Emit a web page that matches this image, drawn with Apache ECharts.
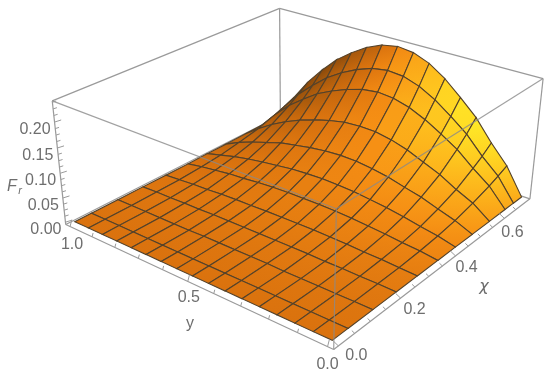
<!DOCTYPE html>
<html>
<head>
<meta charset="utf-8">
<style>html,body{margin:0;padding:0;background:#fff}#chart{width:550px;height:376px}</style>
<script src="https://cdn.jsdelivr.net/npm/echarts@6/dist/echarts.min.js"></script>
</head>
<body>
<div id="chart"></div>
<script>
// mesh positions of the surface
let chiValues=[0,0.048,0.127,0.205,0.279,0.354,0.421,0.488,0.559,0.626,0.663,0.7];
let yValues=[0,0.0625,0.125,0.1875,0.25,0.3125,0.375,0.4375,0.5,0.5625,0.625,0.6875,0.75,0.8125,0.875,0.9375,1];
// F_r, one row per chi value
let frRows=[
[0,0,0,0,0,0,0,0,0,0,0,0,0,0,0,0,0],
[0,0,0,0,0,0,0,0,0,0,0,0,0,0,0,0,0],
[0,0,0,0,0,0,.001,.001,.001,.001,.001,0,0,0,0,0,0],
[0,.001,.001,.002,.002,.003,.003,.003,.003,.003,.003,.003,.002,.002,.001,.001,0],
[0,.002,.004,.005,.007,.008,.009,.009,.009,.009,.008,.008,.007,.005,.004,.002,0],
[0,.005,.008,.012,.015,.018,.020,.021,.021,.021,.020,.018,.015,.013,.009,.005,0],
[0,.009,.015,.022,.028,.032,.036,.038,.039,.038,.036,.032,.028,.023,.017,.009,.001],
[0,.015,.026,.038,.046,.055,.061,.065,.066,.064,.060,.054,.048,.038,.028,.016,.001],
[0,.025,.041,.060,.074,.088,.098,.104,.105,.103,.096,.087,.076,.062,.045,.025,.002],
[0,.037,.062,.090,.111,.130,.145,.154,.157,.153,.143,.130,.114,.092,.068,.038,.003],
[0,.045,.075,.110,.136,.160,.178,.189,.192,.187,.175,.159,.139,.112,.083,.046,.003],
[0,.054,.091,.133,.164,.193,.215,.228,.232,.226,.212,.192,.168,.136,.100,.056,.004]
];
let chiTicks=[0,0.2,0.4,0.6];
let chiMinor=[0.05,0.1,0.15,0.25,0.3,0.35,0.45,0.5,0.55,0.65];
let yTicks=[0,0.5,1];
let yMinor=[0.1,0.2,0.3,0.4,0.6,0.7,0.8,0.9];
let frTicks=[0,0.05,0.1,0.15,0.2];
let frMinor=[0.0125,0.025,0.0375,0.0625,0.075,0.0875,0.1125,0.125,0.1375,0.1625,0.175,0.1875,0.2125,0.225,0.2375];

let chiRange=[-0.014,0.714];
let yRange=[-0.02,1.02];
let frRange=[-0.005,0.24];

// where the box corners land on the page: u,v,w,px,py
let boxFit=[
[0,0,0,335,350],[0,0,1,335,210],[1,0,0,530,197],[1,0,1,543,79],
[0,1,0,65,223],[0,1,1,53,101],[1,1,0,280,118],[1,1,1,280,7]
];

function solve(A,b){
    let n=b.length;
    for(let i=0;i<n;i++){
        let p=i;
        for(let r=i+1;r<n;r++){ if(Math.abs(A[r][i])>Math.abs(A[p][i])) p=r; }
        [A[i],A[p]]=[A[p],A[i]];[b[i],b[p]]=[b[p],b[i]];
        for(let r=0;r<n;r++){
            if(r===i) continue;
            let f=A[r][i]/A[i][i];
            for(let c=i;c<n;c++) A[r][c]-=f*A[i][c];
            b[r]-=f*b[i];
        }
    }
    return b.map((v,i)=>v/A[i][i]);
}
// perspective camera as a least squares fit on the corners
function fitCamera(){
    let rows=[],rhs=[];
    boxFit.forEach(function(c){
        let u=c[0],v=c[1],w=c[2],X=c[3],Y=c[4];
        rows.push([1,u,v,w,0,0,0,0,-X*u,-X*v,-X*w]);rhs.push(X);
        rows.push([0,0,0,0,1,u,v,w,-Y*u,-Y*v,-Y*w]);rhs.push(Y);
    });
    let n=11,A=[],b=[];
    for(let i=0;i<n;i++){
        A.push([]);b.push(0);
        for(let j=0;j<n;j++){
            let s=0;
            rows.forEach(function(r){s+=r[i]*r[j];});
            A[i].push(s);
        }
        rows.forEach(function(r,k){b[i]+=r[i]*rhs[k];});
    }
    return solve(A,b);
}
let cam=fitCamera();
function projectBox(u,v,w){
    let d=1+cam[8]*u+cam[9]*v+cam[10]*w;
    return [(cam[0]+cam[1]*u+cam[2]*v+cam[3]*w)/d,(cam[4]+cam[5]*u+cam[6]*v+cam[7]*w)/d];
}
let toU=x=>echarts.number.linearMap(x,chiRange,[0,1]);
let toV=y=>echarts.number.linearMap(y,yRange,[0,1]);
let toW=z=>echarts.number.linearMap(z,frRange,[0,1]);
function project(x,y,z){ return projectBox(toU(x),toV(y),toW(z)); }

// shade at a grid vertex from the local slopes, -1 dark brown, 1 yellow
function shadeAt(i,j){
    let n=frRows.length-1,m=yValues.length-1;
    let i0=Math.max(i-1,0),i1=Math.min(i+1,n),j0=Math.max(j-1,0),j1=Math.min(j+1,m);
    let du=(toW(frRows[i1][j])-toW(frRows[i0][j]))/(toU(chiValues[i1])-toU(chiValues[i0]));
    let dv=(toW(frRows[i][j1])-toW(frRows[i][j0]))/(toV(yValues[j1])-toV(yValues[j0]));
    let nz=1/Math.sqrt(1+du*du+dv*dv);
    let u=toU(chiValues[i]),v=toV(yValues[j]),w=toW(frRows[i][j]);
    let side=dv>0?Math.min(0.3+w,0.9):0.4+1.6*w;
    let s=dv*nz*side+0.15*du*nz+u*(0.3-0.1*v);
    return Math.max(-1,Math.min(1,s));
}
let shadeStops=[
[-1,[95,52,10]],[-0.4,[170,90,12]],[0,[218,114,14]],[0.4,[246,142,20]],[0.7,[254,185,28]],[1,[255,236,40]]
];
function shadeColor(s){
    for(let k=1;k<shadeStops.length;k++){
        if(s<=shadeStops[k][0]){
            let a=shadeStops[k-1],b=shadeStops[k],t=(s-a[0])/(b[0]-a[0]);
            return 'rgb('+a[1].map((c,q)=>Math.round(c+(b[1][q]-c)*t)).join(',')+')';
        }
    }
    return 'rgb(255,236,40)';
}

// back to front, so nearer cells paint over farther ones
let cells=[];
for(let i=chiValues.length-2;i>=0;i--){
    for(let j=yValues.length-2;j>=0;j--){
        cells.push([i,j]);
    }
}
function renderCell(params,api){
    let i=api.value(0),j=api.value(1);
    let corners=[[i,j],[i+1,j],[i+1,j+1],[i,j+1]].map(c=>project(chiValues[c[0]],yValues[c[1]],frRows[c[0]][c[1]]));
    let startP=project(chiValues[i],yValues[j],frRows[i][j]),endP=project(chiValues[i+1],yValues[j+1],frRows[i+1][j+1]);
    return {
        type:'polygon',
        shape:{points:corners},
        style:{
            fill:new echarts.graphic.LinearGradient(startP[0],startP[1],endP[0],endP[1],[
                {offset:0,color:shadeColor(shadeAt(i,j))},
                {offset:1,color:shadeColor(shadeAt(i+1,j+1))}
            ],true),
            stroke:'#54422a',
            lineWidth:1.1
        }
    };
}

let boxColor='#9a9a9a';
function edge(a,b,color,opacity){
    let p=projectBox(a[0],a[1],a[2]),q=projectBox(b[0],b[1],b[2]);
    return {type:'line',shape:{x1:p[0],y1:p[1],x2:q[0],y2:q[1]},style:{stroke:color||boxColor,lineWidth:1.2,opacity:opacity||1}};
}
function tick(p,dir,len){
    let q=[p[0]+dir[0]*len,p[1]+dir[1]*len];
    return {type:'line',shape:{x1:p[0],y1:p[1],x2:q[0],y2:q[1]},style:{stroke:boxColor,lineWidth:1}};
}
function label(text,x,y,opt){
    return {type:'text',style:Object.assign({text:text,x:x,y:y,fill:'#6e6e6e',font:'16px "Liberation Sans"',align:'center',verticalAlign:'middle'},opt||{})};
}
function renderBack(){
    return {type:'group',children:[
        edge([1,1,1],[0,1,1]),edge([1,1,1],[1,0,1]),edge([1,1,1],[1,1,0]),
        edge([0,1,0],[1,1,0]),edge([1,1,0],[1,0,0])
    ]};
}
function renderFront(){
    let kids=[
        edge([0,0,1],[0,1,1],'#8a8a8a',0.8),edge([0,0,1],[1,0,1],'#8a8a8a',0.8),edge([0,0,1],[0,0,0],'#8a8a8a',0.8),
        edge([0,1,1],[0,1,0]),edge([1,0,1],[1,0,0]),edge([0,0,0],[1,0,0]),edge([0,0,0],[0,1,0])
    ];
    chiTicks.forEach(function(x,k){
        let p=projectBox(toU(x),0,0);
        kids.push(tick(p,[-0.72,-0.69],7));
        kids.push(label(x.toFixed(1),p[0]+[18,14,11,8][k],p[1]+[10,11,12,14][k]));
    });
    chiMinor.forEach(function(x){ kids.push(tick(projectBox(toU(x),0,0),[-0.72,-0.69],4)); });
    yTicks.forEach(function(y,k){
        let p=projectBox(0,toV(y),0);
        kids.push(tick(p,[0.25,-0.97],7));
        kids.push(label(y.toFixed(1),p[0]+[0,1,2][k],p[1]+[18,16,18][k]));
    });
    yMinor.forEach(function(y){ kids.push(tick(projectBox(0,toV(y),0),[0.25,-0.97],4)); });
    frTicks.forEach(function(z,k){
        let p=projectBox(0,1,toW(z));
        kids.push(tick(p,[0.95,-0.3],7));
        kids.push(label(z.toFixed(2),p[0]-4,p[1]+7.5,{align:'right'}));
    });
    frMinor.forEach(function(z){ kids.push(tick(projectBox(0,1,toW(z)),[0.95,-0.3],4)); });
    kids.push(label('y',190,324));
    kids.push(label('χ',484,287,{font:'italic 16px "DejaVu Sans"'}));
    kids.push(label('F',12,187,{font:'italic 16px "Liberation Sans"'}));
    kids.push(label('r',20,191,{font:'italic 11px "Liberation Sans"'}));
    return {type:'group',children:kids};
}

let chart=echarts.init(document.getElementById('chart'),null,{renderer:'canvas'});
chart.setOption({
    animation:false,
    series:[
        {type:'custom',coordinateSystem:'none',z:1,silent:true,data:[[0]],renderItem:renderBack},
        {type:'custom',coordinateSystem:'none',z:2,silent:true,data:cells,renderItem:renderCell},
        {type:'custom',coordinateSystem:'none',z:3,silent:true,data:[[0]],renderItem:renderFront}
    ]
});
</script>
</body>
</html>
